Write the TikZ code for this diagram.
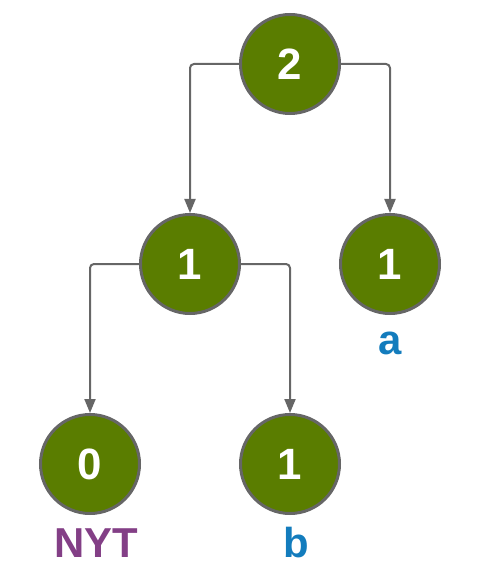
\documentclass[tikz,border=0pt]{standalone}
\usepackage{fontspec}
\setmainfont{Liberation Sans}
\usetikzlibrary{arrows.meta}
\definecolor{leaf}{HTML}{5A7D00}
\definecolor{edge}{HTML}{666666}
\definecolor{nytc}{HTML}{833F86}
\definecolor{symc}{HTML}{137CBD}
\begin{document}
\begin{tikzpicture}[x=1bp,y=-1bp,
  treenode/.style={circle,fill=leaf,draw=edge,line width=3bp,minimum size=99bp,inner sep=0pt,
    text=white,font=\fontsize{44}{44}\selectfont\bfseries},
  link/.style={draw=edge,line width=2bp,rounded corners=4bp,-{Triangle[width=11bp,length=14bp]}},
  tag/.style={font=\fontsize{42}{42}\selectfont\bfseries}]
\useasboundingbox (0,0) rectangle (480,580);
\node[treenode] (root) at (290,64) {2};
\node[treenode] (inner) at (190,264) {1};
\node[treenode] (leafa) at (390,264) {1};
\node[treenode] (nyt) at (90,464) {0};
\node[treenode] (leafb) at (290,464) {1};
\node[tag,text=symc] (la) at (390,343) {a};
\node[tag,text=nytc] (lnyt) at (96,543) {NYT};
\node[tag,text=symc] (lb) at (296,543) {b};
\draw[link] (root.west) -| (inner.north);
\draw[link] (root.east) -| (leafa.north);
\draw[link] (inner.west) -| (nyt.north);
\draw[link] (inner.east) -| (leafb.north);
\end{tikzpicture}
\end{document}
